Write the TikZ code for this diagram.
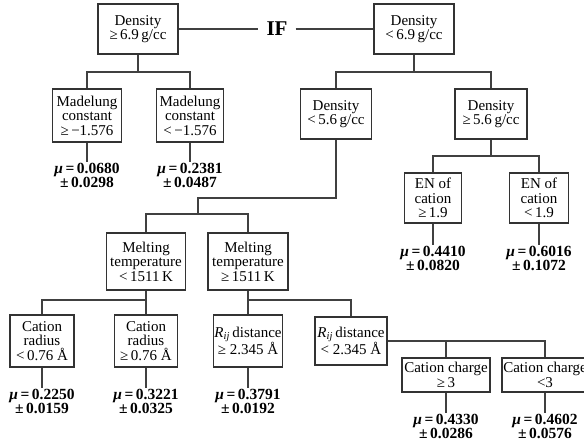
\documentclass[tikz,border=0pt]{standalone}
\usepackage{fontspec}
\setmainfont{Liberation Serif}
\usetikzlibrary{positioning}

\newcommand{\muval}[2]{{\itshape μ}\,=\,#1\\±\,#2}

\begin{document}
\begin{tikzpicture}
[-,x=1pt,y=-1pt,%
  test/.style={shape=rectangle,draw=black!80,line width=1.8pt,fill=white,align=center,inner sep=1pt,font=\fontsize{15}{14.5}\selectfont},%
  leaf/.style={align=center,inner sep=1pt,font=\fontsize{15.5}{14.5}\selectfont\bfseries},%
  link/.style={draw=black!75,line width=1.3pt}]
\useasboundingbox (0,0) rectangle (584,441);
\clip (0,0) rectangle (584,441);
% top level
\node[test,minimum width=80pt,minimum height=50pt] (d1) at (138,29) {Density\\≥\,6.9\,g/cc};
\node[test,minimum width=80pt,minimum height=50pt] (d2) at (414,29) {Density\\<\,6.9\,g/cc};
\node[inner xsep=8pt,font=\fontsize{21}{22}\selectfont\bfseries] (if) at (277,29) {IF};
% second level
\node[test,minimum width=69pt,minimum height=53pt] (mad1) at (87,115.5) {Madelung\\constant\\≥\,−1.576};
\node[test,minimum width=67pt,minimum height=53pt] (mad2) at (190,115.5) {Madelung\\constant\\<\,−1.576};
\node[test,minimum width=71pt,minimum height=50pt] (d3) at (336,114) {Density\\<\,5.6\,g/cc};
\node[test,minimum width=72pt,minimum height=50pt] (d4) at (491,114) {Density\\≥\,5.6\,g/cc};
% third level
\node[test,minimum width=57pt,minimum height=50pt] (en1) at (433,198) {EN of\\cation\\≥\,1.9};
\node[test,minimum width=59pt,minimum height=50pt] (en2) at (539,198) {EN of\\cation\\<\,1.9};
\node[test,minimum width=79pt,minimum height=57pt] (melt1) at (146,261.5) {Melting\\temperature\\<\,1511\,K};
\node[test,minimum width=80pt,minimum height=57pt] (melt2) at (248,261.5) {Melting\\temperature\\≥\,1511\,K};
% fourth level
\node[test,minimum width=64pt,minimum height=52pt] (rad1) at (42,341) {Cation\\radius\\<\,0.76 Å};
\node[test,minimum width=63pt,minimum height=52pt] (rad2) at (146,341) {Cation\\radius\\≥\,0.76 Å};
\node[test,minimum width=67pt,minimum height=52pt] (rij1) at (248,341) {\textit{R}\textsubscript{\textit{ij}}\,distance\\≥ 2.345 Å};
\node[test,minimum width=72pt,minimum height=48pt] (rij2) at (351,341) {\textit{R}\textsubscript{\textit{ij}}\,distance\\< 2.345 Å};
\node[test,minimum width=88pt,minimum height=34pt] (chg1) at (446,375) {Cation charge\\≥\,3};
\node[test,minimum width=86pt,minimum height=34pt] (chg2) at (545,375) {Cation charge\\<3};
% leaves
\node[leaf,below=19pt of mad1] (l1) {\muval{0.0680}{0.0298}};
\node[leaf,below=19pt of mad2] (l2) {\muval{0.2381}{0.0487}};
\node[leaf,below=21pt of en1] (l3) {\muval{0.4410}{0.0820}};
\node[leaf,below=21pt of en2] (l4) {\muval{0.6016}{0.1072}};
\node[leaf,below=20pt of rad1] (l5) {\muval{0.2250}{0.0159}};
\node[leaf,below=20pt of rad2] (l6) {\muval{0.3221}{0.0325}};
\node[leaf,below=20pt of rij1] (l7) {\muval{0.3791}{0.0192}};
\node[leaf,below=20pt of chg1] (l8) {\muval{0.4330}{0.0286}};
\node[leaf,below=20pt of chg2] (l9) {\muval{0.4602}{0.0576}};
\coordinate (j1) at (198,198);
% connectors
\draw[link] (d1.east) -- (if.west);
\draw[link] (if.east) -- (d2.west);
\draw[link] (d1.south) -- ++(0,17) -| (mad1.north);
\draw[link] (d1.south) -- ++(0,17) -| (mad2.north);
\draw[link] (d2.south) -- ++(0,17) -| (d3.north);
\draw[link] (d2.south) -- ++(0,17) -| (d4.north);
\draw[link] (d4.south) -- ++(0,16) -| (en1.north);
\draw[link] (d4.south) -- ++(0,16) -| (en2.north);
\draw[link] (d3.south) |- (j1) -- ++(0,16) -| (melt1.north);
\draw[link] (j1) -- ++(0,16) -| (melt2.north);
\draw[link] (melt1.south) -- ++(0,9) -| (rad1.north);
\draw[link] (melt1.south) -- (rad2.north);
\draw[link] (melt2.south) -- (rij1.north);
\draw[link] (melt2.south) -- ++(0,9) -| (rij2.north);
\draw[link] (rij2.east) -| (chg1.north);
\draw[link] (rij2.east) -| (chg2.north);
\draw[link] (mad1) -- (l1);
\draw[link] (mad2) -- (l2);
\draw[link] (en1) -- (l3);
\draw[link] (en2) -- (l4);
\draw[link] (rad1) -- (l5);
\draw[link] (rad2) -- (l6);
\draw[link] (rij1) -- (l7);
\draw[link] (chg1) -- (l8);
\draw[link] (chg2) -- (l9);
\end{tikzpicture}
\end{document}
